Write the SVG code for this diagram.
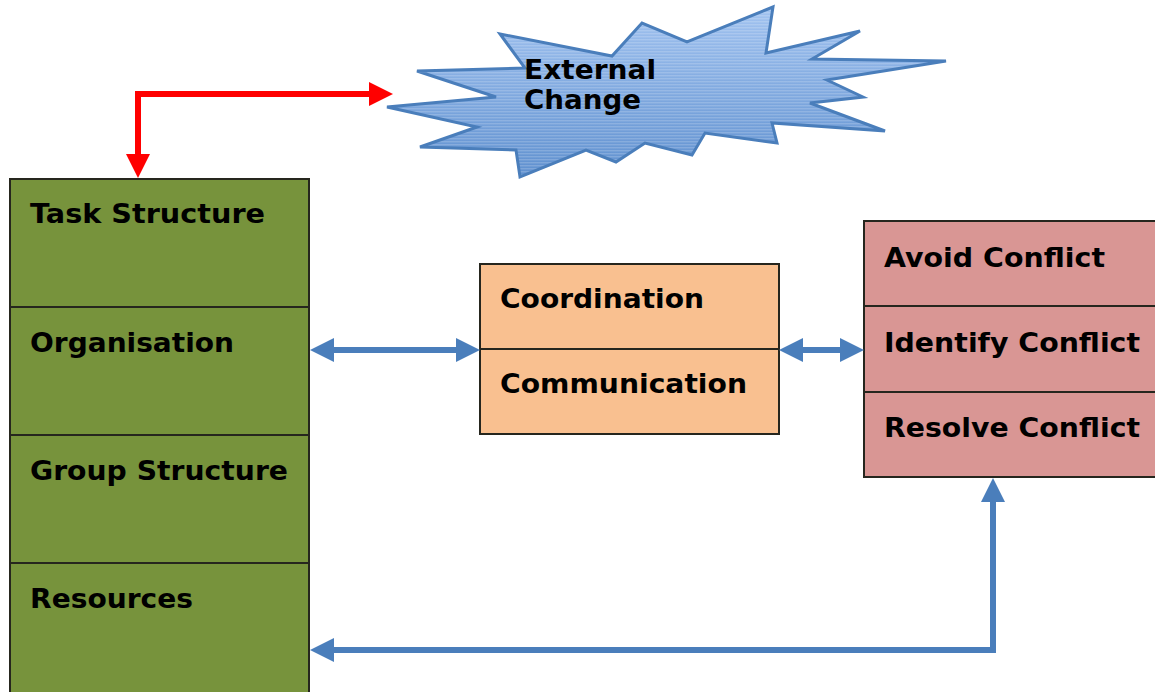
<svg xmlns="http://www.w3.org/2000/svg" width="1155" height="692" viewBox="0 0 1155 692">
  <style>
    .label { font-family: "DejaVu Sans", Verdana, sans-serif; font-weight: bold; font-size: 27px; fill: #000; }
    .burst-label { font-size: 26px; }
    .box { stroke: #26261e; stroke-width: 2; }
    .green { fill: #77933c; }
    .orange { fill: #f9c090; }
    .pink { fill: #d99694; }
    .sep { stroke: #26261e; stroke-width: 2; fill: none; }
    .blue { stroke: #4a7ebb; stroke-width: 6; fill: none; }
    .red { stroke: #ff0000; stroke-width: 6; fill: none; }
  </style>
  <defs>
    <linearGradient id="burstGrad" x1="0" y1="0" x2="0" y2="1">
      <stop offset="0" stop-color="#a2c3f0"/>
      <stop offset="1" stop-color="#5f90cf"/>
    </linearGradient>
    <pattern id="stripes" width="8" height="3" patternUnits="userSpaceOnUse">
      <rect width="8" height="1.4" fill="#ffffff" fill-opacity="0.18"/>
    </pattern>
    <marker id="headBlue" markerUnits="userSpaceOnUse" markerWidth="24" markerHeight="24" refX="12" refY="12" orient="auto-start-reverse" viewBox="0 0 24 24">
      <path d="M0,0 L24,12 L0,24 z" fill="#4a7ebb"/>
    </marker>
    <marker id="headRed" markerUnits="userSpaceOnUse" markerWidth="24" markerHeight="24" refX="12" refY="12" orient="auto-start-reverse" viewBox="0 0 24 24">
      <path d="M0,0 L24,12 L0,24 z" fill="#ff0000"/>
    </marker>
  </defs>

  <rect width="1155" height="692" fill="#ffffff"/>

  <!-- External change starburst -->
  <g id="external-change">
    <polygon points="500,34 612,56 642,23 687,42 773,7 766,53 860,31 812,59 946,61 827,80 863,97 810,103 885,131 772,123 777,143 705,133 692,155 645,143 616,162 586,150 520,177 516,150 420,147 477,127 387,107 496,97 417,71 525,68" fill="url(#burstGrad)" stroke="none"/>
    <polygon points="500,34 612,56 642,23 687,42 773,7 766,53 860,31 812,59 946,61 827,80 863,97 810,103 885,131 772,123 777,143 705,133 692,155 645,143 616,162 586,150 520,177 516,150 420,147 477,127 387,107 496,97 417,71 525,68" fill="url(#stripes)" stroke="#4a7ebb" stroke-width="3" stroke-linejoin="miter"/>
    <text class="label burst-label" x="524" y="79" textLength="132" lengthAdjust="spacingAndGlyphs">External</text>
    <text class="label burst-label" x="524" y="109" textLength="117" lengthAdjust="spacingAndGlyphs">Change</text>
  </g>

  <!-- Organisational factors column -->
  <g id="org-factors">
    <rect class="box green" x="10" y="179" width="299" height="520"/>
    <line class="sep" x1="10" y1="307" x2="309" y2="307"/>
    <line class="sep" x1="10" y1="435" x2="309" y2="435"/>
    <line class="sep" x1="10" y1="563" x2="309" y2="563"/>
    <text class="label" x="30" y="223" textLength="235" lengthAdjust="spacingAndGlyphs">Task Structure</text>
    <text class="label" x="30" y="352" textLength="204" lengthAdjust="spacingAndGlyphs">Organisation</text>
    <text class="label" x="30" y="480" textLength="258" lengthAdjust="spacingAndGlyphs">Group Structure</text>
    <text class="label" x="30" y="608" textLength="163" lengthAdjust="spacingAndGlyphs">Resources</text>
  </g>

  <!-- Coordination / communication -->
  <g id="coordination">
    <rect class="box orange" x="480" y="264" width="299" height="170"/>
    <line class="sep" x1="480" y1="349" x2="779" y2="349"/>
    <text class="label" x="500" y="308" textLength="204" lengthAdjust="spacingAndGlyphs">Coordination</text>
    <text class="label" x="500" y="393" textLength="247" lengthAdjust="spacingAndGlyphs">Communication</text>
  </g>

  <!-- Conflict handling -->
  <g id="conflict">
    <rect class="box pink" x="864" y="221" width="300" height="256"/>
    <line class="sep" x1="864" y1="306" x2="1164" y2="306"/>
    <line class="sep" x1="864" y1="392" x2="1164" y2="392"/>
    <text class="label" x="884" y="267" textLength="221" lengthAdjust="spacingAndGlyphs">Avoid Conflict</text>
    <text class="label" x="884" y="352" textLength="256" lengthAdjust="spacingAndGlyphs">Identify Conflict</text>
    <text class="label" x="884" y="437" textLength="256" lengthAdjust="spacingAndGlyphs">Resolve Conflict</text>
  </g>

  <!-- Connectors -->
  <g id="connectors">
    <polyline class="red" points="138,166 138,94 381,94" marker-start="url(#headRed)" marker-end="url(#headRed)"/>
    <line class="blue" x1="322" y1="350" x2="468" y2="350" marker-start="url(#headBlue)" marker-end="url(#headBlue)"/>
    <line class="blue" x1="791" y1="350" x2="852" y2="350" marker-start="url(#headBlue)" marker-end="url(#headBlue)"/>
    <polyline class="blue" points="993,490 993,650 322,650" marker-start="url(#headBlue)" marker-end="url(#headBlue)"/>
  </g>
</svg>
